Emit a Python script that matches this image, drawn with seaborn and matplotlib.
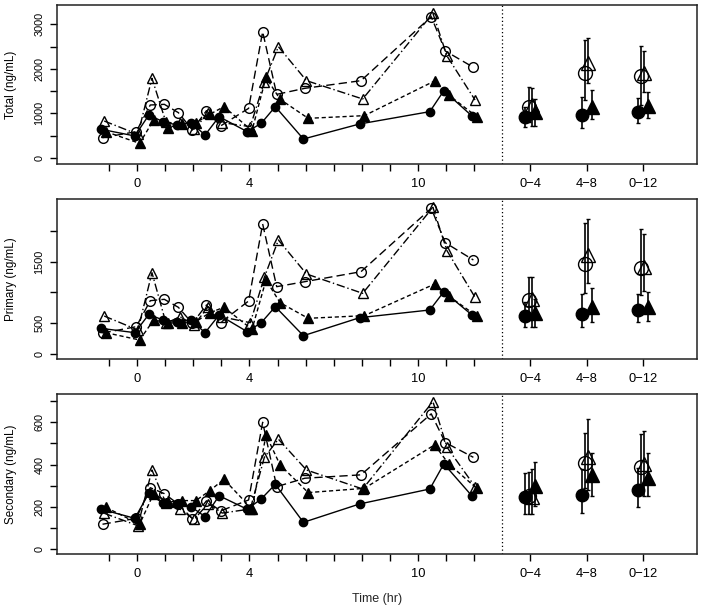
import matplotlib
matplotlib.use("Agg")
import matplotlib.pyplot as plt
import seaborn as sns

# time points (hr) and the three summary windows
TIMES = [-1.2, 0, 0.5, 1, 1.5, 2, 2.5, 3, 4, 4.5, 5, 6, 8, 10.5, 11, 12]
WINDOWS = ["0\u22124", "4\u22128", "0\u221212"]
WINDOW_POS = [14, 16, 18]

# Total (ng/mL)
total_fc = [644, 494, 965, 815, 740, 793, 516, 927, 591, 778, 1152, 426, 763, 1040, 1511, 942]
total_oc = [456, 591, 1189, 1204, 1017, 628, 1062, 718, 1114, 2834, 1428, 1563, 1735, 3171, 2401, 2035]
total_ft = [590, 329, 853, 680, 763, 793, 980, 1152, 613, 1810, 1317, 890, 950, 1728, 1414, 927]
total_ot = [830, 530, 1788, 800, 780, 650, 1002, 793, 703, 1712, 2498, 1735, 1324, 3247, 2289, 1301]

total_fc_mean, total_fc_lo, total_fc_hi = [913, 965, 1040], [688, 666, 793], [1150, 1376, 1339]
total_oc_mean, total_oc_lo, total_oc_hi = [1152, 1914, 1840], [800, 1300, 1189], [1600, 2648, 2521]
total_ft_mean, total_ft_lo, total_ft_hi = [1040, 1152, 1167], [718, 868, 890], [1317, 1526, 1488]
total_ot_mean, total_ot_lo, total_ot_hi = [1180, 2139, 1914], [718, 1690, 1488], [1578, 2700, 2408]

# Primary (ng/mL)
primary_fc = [416, 346, 643, 551, 524, 551, 346, 633, 362, 508, 768, 297, 589, 714, 1011, 633]
primary_oc = [340, 443, 865, 887, 757, 497, 795, 508, 860, 2109, 1092, 1173, 1335, 2363, 1805, 1525]
primary_ft = [346, 227, 551, 508, 497, 524, 670, 757, 400, 1200, 832, 579, 622, 1135, 941, 616]
primary_ot = [616, 389, 1319, 500, 605, 470, 768, 600, 508, 1244, 1849, 1298, 984, 2379, 1676, 919]

primary_fc_mean, primary_fc_lo, primary_fc_hi = [616, 649, 714], [443, 432, 524], [849, 973, 973]
primary_oc_mean, primary_oc_lo, primary_oc_hi = [876, 1455, 1390], [600, 984, 957], [1254, 2130, 2028]
primary_ft_mean, primary_ft_lo, primary_ft_hi = [660, 757, 757], [443, 524, 540], [887, 1076, 1011]
primary_ot_mean, primary_ot_lo, primary_ot_hi = [890, 1606, 1416], [443, 1157, 1027], [1244, 2184, 1946]

# Secondary (ng/mL)
secondary_fc = [188, 145, 264, 216, 212, 200, 153, 252, 188, 237, 306, 126, 213, 284, 403, 251]
secondary_oc = [117, 145, 290, 262, 212, 143, 228, 180, 232, 600, 295, 335, 351, 640, 504, 434]
secondary_ft = [197, 117, 262, 221, 229, 229, 276, 330, 189, 540, 398, 267, 287, 493, 403, 287]
secondary_ot = [169, 110, 374, 216, 188, 140, 215, 170, 189, 434, 520, 374, 284, 698, 482, 295]

secondary_fc_mean, secondary_fc_lo, secondary_fc_hi = [245, 256, 279], [166, 172, 200], [358, 380, 382]
secondary_oc_mean, secondary_oc_lo, secondary_oc_hi = [252, 406, 387], [164, 290, 275], [366, 551, 543]
secondary_ft_mean, secondary_ft_lo, secondary_ft_hi = [298, 351, 335], [204, 251, 251], [414, 456, 456]
secondary_ot_mean, secondary_ot_lo, secondary_ot_hi = [245, 437, 403], [164, 279, 250], [378, 614, 560]

sns.set_theme(style="ticks")
plt.rcParams['font.family'] = ['Liberation Sans', 'DejaVu Sans']

# marker / line look of each group
STYLE = {
    "fc": dict(marker="o", mfc="black", ls="-", ms=6, ms_sum=9, off=-0.08, off_sum=-0.18),
    "oc": dict(marker="o", mfc="none", ls=(0, (6, 3)), ms=7, ms_sum=10, off=-0.03, off_sum=-0.06),
    "ot": dict(marker="^", mfc="none", ls=(0, (6, 2, 1, 2)), ms=7.5, ms_sum=10, off=0.03, off_sum=0.06),
    "ft": dict(marker="^", mfc="black", ls=(0, (3, 2)), ms=7.5, ms_sum=10, off=0.09, off_sum=0.18),
}

panels = [
    dict(label="Total (ng/mL)", ylim=(-135, 3433),
         ticks=[0, 500, 1000, 1500, 2000, 2500, 3000],
         labels=["0", "", "1000", "", "2000", "", "3000"],
         series={"fc": total_fc, "oc": total_oc, "ot": total_ot, "ft": total_ft},
         summary={"fc": (total_fc_mean, total_fc_lo, total_fc_hi),
                  "oc": (total_oc_mean, total_oc_lo, total_oc_hi),
                  "ot": (total_ot_mean, total_ot_lo, total_ot_hi),
                  "ft": (total_ft_mean, total_ft_lo, total_ft_hi)}),
    dict(label="Primary (ng/mL)", ylim=(-81, 2514),
         ticks=[0, 500, 1000, 1500, 2000],
         labels=["0", "500", "", "1500", ""],
         series={"fc": primary_fc, "oc": primary_oc, "ot": primary_ot, "ft": primary_ft},
         summary={"fc": (primary_fc_mean, primary_fc_lo, primary_fc_hi),
                  "oc": (primary_oc_mean, primary_oc_lo, primary_oc_hi),
                  "ot": (primary_ot_mean, primary_ot_lo, primary_ot_hi),
                  "ft": (primary_ft_mean, primary_ft_lo, primary_ft_hi)}),
    dict(label="Secondary (ng/mL)", ylim=(-24, 734),
         ticks=[0, 100, 200, 300, 400, 500, 600, 700],
         labels=["0", "", "200", "", "400", "", "600", ""],
         series={"fc": secondary_fc, "oc": secondary_oc, "ot": secondary_ot, "ft": secondary_ft},
         summary={"fc": (secondary_fc_mean, secondary_fc_lo, secondary_fc_hi),
                  "oc": (secondary_oc_mean, secondary_oc_lo, secondary_oc_hi),
                  "ot": (secondary_ot_mean, secondary_ot_lo, secondary_ot_hi),
                  "ft": (secondary_ft_mean, secondary_ft_lo, secondary_ft_hi)}),
]

fig = plt.figure(figsize=(7.01, 6.12), dpi=100)
W, H = 701, 612
boxes = [(5, 164), (199, 359), (394, 554)]

xticks = list(range(-1, 13)) + WINDOW_POS
xlabels = ["0" if t == 0 else "4" if t == 4 else "10" if t == 10 else "" for t in range(-1, 13)] + WINDOWS

for p, (top, bot) in zip(panels, boxes):
    ax = fig.add_axes([57 / W, 1 - bot / H, 640 / W, (bot - top) / H])

    for key in ["fc", "oc", "ft", "ot"]:
        st = STYLE[key]
        xs = [t + st["off"] for t in TIMES]
        sns.lineplot(x=xs, y=p["series"][key], ax=ax, sort=False, estimator=None,
                     color="black", lw=1, linestyle=st["ls"], marker=st["marker"],
                     markersize=st["ms"], markerfacecolor=st["mfc"],
                     markeredgecolor="black", markeredgewidth=1)

        mean, lo, hi = p["summary"][key]
        xs = [w + st["off_sum"] for w in WINDOW_POS]
        yerr = [[m - l for m, l in zip(mean, lo)], [h - m for m, h in zip(mean, hi)]]
        ax.errorbar(xs, mean, yerr=yerr, fmt=st["marker"], color="black",
                    ms=st["ms_sum"], mfc=st["mfc"], mec="black", mew=1,
                    elinewidth=1.2, capsize=1.6, capthick=1)

    ax.axvline(13, color="black", ls=(0, (1, 2)), lw=0.9)

    ax.set_xlim(-2.85, 19.93)
    ax.set_ylim(*p["ylim"])
    ax.set_xticks(xticks)
    ax.set_xticklabels(xlabels)
    ax.set_yticks(p["ticks"])
    ax.set_yticklabels(p["labels"], rotation=90, va="center")
    ax.tick_params(direction="out", length=5, width=1, color="black", labelcolor="black")
    ax.tick_params(axis="x", labelsize=9.3, pad=5)
    ax.tick_params(axis="y", labelsize=7.8, pad=4)
    ax.set_ylabel(p["label"], fontsize=8.4, color="black")
    ax.yaxis.set_label_coords(-0.062, 0.5)
    for s in ax.spines.values():
        s.set_visible(True)
        s.set_color("#222222")
        s.set_linewidth(1.1)

fig.text(377 / W, 1 - 599 / H, "Time (hr)", ha="center", va="center", fontsize=9)

fig.savefig("out.png", dpi=100)
